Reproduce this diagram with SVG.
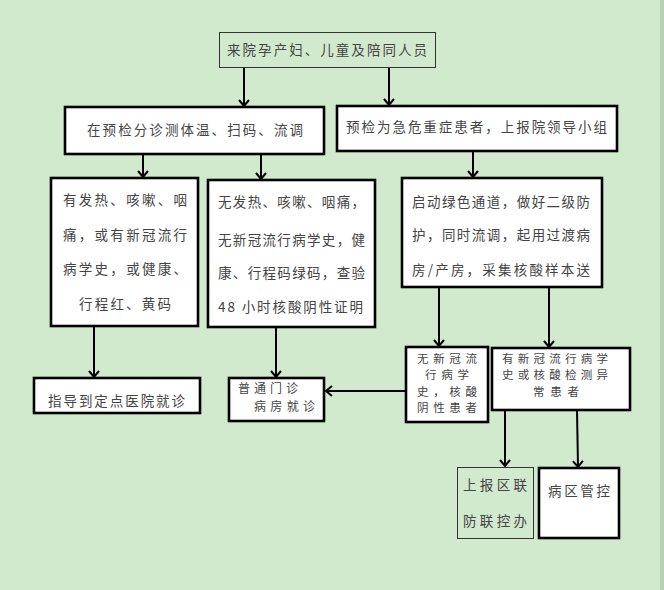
<svg xmlns="http://www.w3.org/2000/svg" width="664" height="590" viewBox="0 0 664 590">
<defs>
<marker id="ah" markerUnits="userSpaceOnUse" markerWidth="14" markerHeight="14" viewBox="-8 -7 10 14" refX="0" refY="0" orient="auto">
<path d="M-6,-5 L0,0 L-6,5" fill="none" stroke="#000" stroke-width="2"/>
</marker>
</defs>
<style>
.t{font-family:"Noto Sans CJK SC","Noto Sans",sans-serif;font-size:13.5px;fill:#444;}
.s{font-size:11.5px;}
.m{font-size:12px;}
.w{fill:#fff;stroke:#000;stroke-width:2.6;}
.g{fill:#d1e9cd;stroke:#333;stroke-width:1;}
.c{stroke:#000;stroke-width:2;fill:none;marker-end:url(#ah);}
</style>
<rect x="0" y="0" width="664" height="590" fill="#d1e9cd"/>
<rect x="660" y="0" width="4" height="590" fill="#b6d3b4"/>

<g id="connectors">
<line class="c" x1="244" y1="67" x2="244" y2="106"/>
<line class="c" x1="389" y1="67" x2="389" y2="105"/>
<line class="c" x1="143" y1="154" x2="143" y2="177"/>
<line class="c" x1="261" y1="154" x2="261" y2="179"/>
<line class="c" x1="473" y1="151" x2="473" y2="177"/>
<line class="c" x1="94" y1="326" x2="94" y2="377"/>
<line class="c" x1="276" y1="327" x2="276" y2="377"/>
<line class="c" x1="439" y1="287" x2="439" y2="346"/>
<line class="c" x1="549" y1="287" x2="549" y2="347"/>
<line class="c" x1="406" y1="391" x2="326" y2="391"/>
<line class="c" x1="505" y1="410" x2="505" y2="466"/>
<line class="c" x1="577" y1="410" x2="578" y2="467"/>
</g>

<g id="n1">
<rect class="g" x="219.5" y="32.5" width="216" height="35"/>
<text class="t" x="227" y="55" textLength="200" lengthAdjust="spacing">来院孕产妇、儿童及陪同人员</text>
</g>

<g id="n2">
<rect class="w" x="65" y="107" width="259" height="47"/>
<text class="t" x="87" y="135" textLength="216" lengthAdjust="spacing">在预检分诊测体温、扫码、流调</text>
</g>

<g id="n3">
<rect class="w" x="337" y="106" width="280" height="45"/>
<text class="t" x="346" y="132" textLength="261" lengthAdjust="spacing">预检为急危重症患者，上报院领导小组</text>
</g>

<g id="n4">
<rect class="w" x="51" y="178" width="147" height="148"/>
<text class="t" x="63" y="205" textLength="124" lengthAdjust="spacing">有发热、咳嗽、咽</text>
<text class="t" x="63" y="240" textLength="124" lengthAdjust="spacing">痛，或有新冠流行</text>
<text class="t" x="63" y="274" textLength="124" lengthAdjust="spacing">病学史，或健康、</text>
<text class="t" x="79" y="309" textLength="92" lengthAdjust="spacing">行程红、黄码</text>
</g>

<g id="n5">
<rect class="w" x="208" y="180" width="167" height="147"/>
<text class="t" x="218" y="207" textLength="147" lengthAdjust="spacing">无发热、咳嗽、咽痛，</text>
<text class="t" x="218" y="245" textLength="147" lengthAdjust="spacing">无新冠流行病学史，健</text>
<text class="t" x="218" y="278" textLength="147" lengthAdjust="spacing">康、行程码绿码，查验</text>
<text class="t" x="218" y="312" textLength="145" lengthAdjust="spacing">48 小时核酸阴性证明</text>
</g>

<g id="n6">
<rect class="w" x="402" y="178" width="200" height="109"/>
<text class="t" x="412" y="207" textLength="178" lengthAdjust="spacing">启动绿色通道，做好二级防</text>
<text class="t" x="412" y="240" textLength="178" lengthAdjust="spacing">护，同时流调，起用过渡病</text>
<text class="t" x="412" y="275" textLength="178" lengthAdjust="spacing">房/产房，采集核酸样本送</text>
</g>

<g id="n7">
<rect class="w" x="34" y="378" width="166" height="35"/>
<text class="t" x="48" y="406" textLength="137" lengthAdjust="spacing">指导到定点医院就诊</text>
</g>

<g id="n8">
<rect class="w" x="229" y="378" width="95" height="43"/>
<text class="t m" x="238" y="393" textLength="60" lengthAdjust="spacing">普通门诊</text>
<text class="t m" x="254" y="411" textLength="61" lengthAdjust="spacing">病房就诊</text>
</g>

<g id="n9">
<rect class="w" x="406" y="347" width="82" height="75"/>
<text class="t s" x="417" y="363" textLength="60" lengthAdjust="spacing">无新冠流</text>
<text class="t s" x="425" y="379" textLength="44" lengthAdjust="spacing">行病学</text>
<text class="t s" x="417" y="396" textLength="60" lengthAdjust="spacing">史，核酸</text>
<text class="t s" x="417" y="412" textLength="60" lengthAdjust="spacing">阴性患者</text>
</g>

<g id="n10">
<rect class="w" x="492" y="348" width="138" height="62"/>
<text class="t s" x="502" y="363" textLength="106" lengthAdjust="spacing">有新冠流行病学</text>
<text class="t s" x="502" y="379" textLength="106" lengthAdjust="spacing">史或核酸检测异</text>
<text class="t s" x="533" y="396" textLength="46" lengthAdjust="spacing">常患者</text>
</g>

<g id="n11">
<rect class="g" x="457.5" y="467.5" width="76" height="71"/>
<text class="t" x="463" y="490" textLength="64" lengthAdjust="spacing">上报区联</text>
<text class="t" x="463" y="526" textLength="64" lengthAdjust="spacing">防联控办</text>
</g>

<g id="n12">
<rect class="w" x="539" y="468" width="80" height="70"/>
<text class="t" x="548" y="496" textLength="62" lengthAdjust="spacing">病区管控</text>
</g>
</svg>
